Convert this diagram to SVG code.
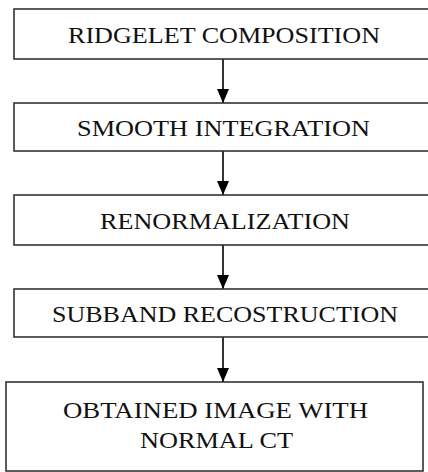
<svg xmlns="http://www.w3.org/2000/svg" width="428" height="472" viewBox="0 0 428 472">
  <style>
    .box { fill: #fff; stroke: #333; stroke-width: 1.6; }
    .lbl { font-family: "Liberation Serif", "Times New Roman", serif; font-size: 24px; fill: #111; text-anchor: middle; }
    .edge { stroke: #000; stroke-width: 1.6; fill: none; }
  </style>
  <defs>
    <!-- filled triangular arrowhead, tip at the end of the line -->
    <marker id="head" viewBox="0 0 14 12" refX="14" refY="6" markerWidth="14" markerHeight="12" markerUnits="userSpaceOnUse" orient="auto">
      <path d="M0,0 L14,6 L0,12 z" fill="#000"/>
    </marker>
  </defs>
  <rect width="428" height="472" fill="#fff"/>

  <g id="connectors">
    <line class="edge" x1="223" y1="59" x2="223" y2="103" marker-end="url(#head)"/>
    <line class="edge" x1="223" y1="151" x2="223" y2="195" marker-end="url(#head)"/>
    <line class="edge" x1="223" y1="245" x2="223" y2="289" marker-end="url(#head)"/>
    <line class="edge" x1="223" y1="337" x2="223" y2="382" marker-end="url(#head)"/>
  </g>

  <g id="ridgelet">
    <rect class="box" x="14" y="9" width="430" height="50"/>
    <text class="lbl" x="224" y="43" textLength="312" lengthAdjust="spacingAndGlyphs">RIDGELET COMPOSITION</text>
  </g>
  <g id="smooth">
    <rect class="box" x="14" y="103" width="430" height="48"/>
    <text class="lbl" x="223.5" y="136" textLength="293" lengthAdjust="spacingAndGlyphs">SMOOTH  INTEGRATION</text>
  </g>
  <g id="renorm">
    <rect class="box" x="14" y="195" width="430" height="50"/>
    <text class="lbl" x="225" y="229" textLength="250" lengthAdjust="spacingAndGlyphs">RENORMALIZATION</text>
  </g>
  <g id="subband">
    <rect class="box" x="14" y="289" width="430" height="48"/>
    <text class="lbl" x="225" y="322" textLength="346" lengthAdjust="spacingAndGlyphs">SUBBAND  RECOSTRUCTION</text>
  </g>
  <g id="obtained">
    <rect class="box" x="6" y="382" width="417" height="89"/>
    <text class="lbl" x="215.5" y="418" textLength="305" lengthAdjust="spacingAndGlyphs">OBTAINED  IMAGE WITH</text>
    <text class="lbl" x="216.5" y="448" textLength="153" lengthAdjust="spacingAndGlyphs">NORMAL CT</text>
  </g>
</svg>
